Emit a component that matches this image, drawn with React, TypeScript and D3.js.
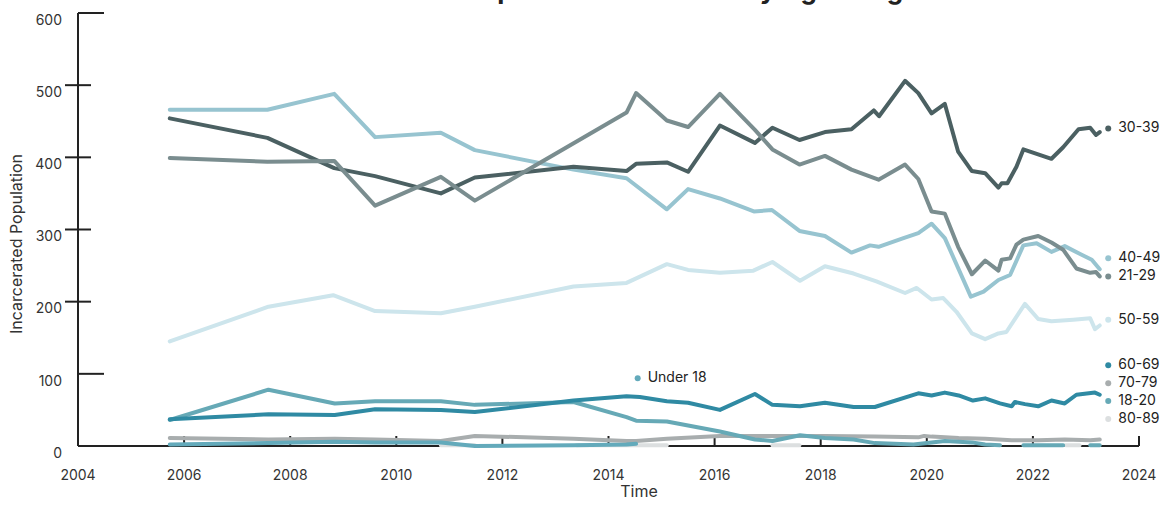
import React from "react";
import * as d3 from "d3";

type Pt = [number, number | null];

const xTicks = [2004, 2006, 2008, 2010, 2012, 2014, 2016, 2018, 2020, 2022, 2024];
const yTicks = [0, 100, 200, 300, 400, 500, 600];

const age30_39: Pt[] = [
  [2005.73, 454], [2007.57, 427], [2008.83, 385], [2009.6, 374], [2010.84, 350], [2011.48, 372],
  [2013.34, 387], [2014.34, 381], [2014.52, 391], [2015.1, 393], [2015.5, 380], [2016.1, 444],
  [2016.76, 420], [2017.09, 441], [2017.6, 424], [2018.08, 435], [2018.58, 439], [2019.0, 465],
  [2019.1, 457], [2019.59, 506], [2019.84, 489], [2020.09, 461], [2020.34, 474], [2020.59, 408],
  [2020.85, 381], [2021.1, 378], [2021.35, 358], [2021.41, 364], [2021.52, 364], [2021.69, 387],
  [2021.82, 411], [2022.35, 398], [2022.57, 414], [2022.86, 439], [2023.08, 441], [2023.19, 431],
  [2023.26, 435],
];

const age21_29: Pt[] = [
  [2005.73, 399], [2007.57, 394], [2008.83, 395], [2009.6, 333], [2010.84, 373], [2011.48, 340],
  [2014.34, 462], [2014.52, 489], [2015.1, 451], [2015.5, 442], [2016.1, 488], [2016.76, 438],
  [2017.09, 411], [2017.6, 390], [2018.08, 402], [2018.58, 383], [2019.09, 369], [2019.59, 390],
  [2019.84, 370], [2020.09, 325], [2020.34, 322], [2020.59, 276], [2020.85, 238], [2021.1, 257],
  [2021.35, 243], [2021.41, 258], [2021.57, 260], [2021.69, 279], [2021.82, 286], [2022.1, 291],
  [2022.35, 282], [2022.57, 272], [2022.82, 246], [2023.08, 240], [2023.19, 241], [2023.26, 235],
];

const age40_49: Pt[] = [
  [2005.73, 466], [2007.57, 466], [2008.83, 488], [2009.6, 428], [2010.84, 434], [2011.48, 410],
  [2013.34, 383], [2014.34, 371], [2015.1, 328], [2015.5, 356], [2016.1, 343], [2016.74, 325],
  [2017.08, 327], [2017.6, 298], [2018.08, 291], [2018.58, 268], [2018.93, 278], [2019.09, 276],
  [2019.56, 288], [2019.84, 295], [2020.09, 308], [2020.34, 288], [2020.83, 207], [2021.07, 214],
  [2021.35, 230], [2021.57, 237], [2021.82, 278], [2022.07, 281], [2022.35, 269], [2022.6, 277],
  [2022.89, 266], [2023.11, 258], [2023.26, 245],
];

const age50_59: Pt[] = [
  [2005.73, 145], [2007.59, 193], [2008.81, 209], [2009.6, 187], [2010.84, 184], [2011.48, 193],
  [2013.34, 221], [2014.34, 226], [2015.1, 252], [2015.5, 244], [2016.1, 240], [2016.73, 243],
  [2017.09, 255], [2017.61, 229], [2018.08, 249], [2018.62, 239], [2019.05, 228], [2019.59, 212],
  [2019.81, 219], [2020.09, 203], [2020.31, 205], [2020.56, 186], [2020.85, 156], [2021.1, 148],
  [2021.35, 156], [2021.5, 158], [2021.85, 197], [2022.1, 176], [2022.35, 173], [2022.76, 175],
  [2023.08, 177], [2023.17, 162], [2023.26, 167],
];

const age60_69: Pt[] = [
  [2005.73, 37], [2007.59, 44], [2008.84, 43], [2009.6, 51], [2010.84, 50], [2011.48, 47],
  [2013.34, 63], [2014.34, 69], [2014.59, 68], [2015.1, 62], [2015.5, 60], [2016.1, 50],
  [2016.76, 72], [2017.09, 57], [2017.61, 55], [2018.08, 60], [2018.62, 54], [2019.02, 54],
  [2019.84, 73], [2020.09, 70], [2020.34, 74], [2020.6, 70], [2020.87, 63], [2021.1, 66],
  [2021.38, 59], [2021.6, 55], [2021.66, 61], [2021.85, 58], [2022.1, 55], [2022.35, 63],
  [2022.6, 59], [2022.82, 71], [2023.17, 74], [2023.26, 71],
];

const age18_20: Pt[] = [
  [2005.73, 36], [2007.59, 78], [2008.84, 59], [2009.6, 62], [2010.84, 62], [2011.48, 57],
  [2013.34, 61], [2014.34, 40], [2014.52, 35], [2015.1, 34], [2016.1, 20], [2016.76, 9],
  [2017.09, 7], [2017.61, 15], [2018.08, 11], [2018.62, 9], [2019.02, 4], [2019.75, 2],
  [2020.09, 5], [2020.34, 7], [2020.85, 5], [2021.1, 2], [2021.38, 1], [2021.6, null],
  [2021.82, 1], [2022.1, 1], [2022.35, 1], [2022.57, 1], [2022.8, null], [2023.08, 1], [2023.26, 1],
];

const under18: Pt[] = [
  [2005.73, 2], [2007.59, 4], [2008.84, 6], [2009.6, 5], [2010.84, 5], [2011.48, 0],
  [2013.34, 1], [2014.34, 2], [2014.52, 3],
];

const age70_79: Pt[] = [
  [2005.73, 11], [2007.59, 9], [2008.84, 10], [2009.6, 9], [2010.84, 7], [2011.48, 14],
  [2013.34, 10], [2014.34, 7], [2014.52, 7], [2015.1, 10], [2016.1, 14], [2017.09, 14],
  [2018.08, 14], [2019.02, 13], [2019.84, 12], [2019.95, 14], [2020.09, 13], [2020.6, 11],
  [2021.1, 10], [2021.6, 8], [2022.1, 8], [2022.6, 9], [2023.08, 8], [2023.26, 9],
];

const age80_89: Pt[] = [
  [2010.84, 1], [2011.48, 1], [2012.5, null], [2013.4, 1], [2014.34, 1], [2015.1, 1],
  [2016.0, null], [2017.09, 1], [2017.6, 1], [2018.5, null], [2022.62, 1], [2022.88, 1],
];

const seriesNames = ["80-89", "70-79", "Under 18", "18-20", "60-69", "50-59", "40-49", "30-39", "21-29"];
const seriesData = [age80_89, age70_79, under18, age18_20, age60_69, age50_59, age40_49, age30_39, age21_29];
const seriesColors = ["#dcdfe0", "#a8adae", "#63aabb", "#66a9b6", "#2f8aa3", "#cde5ec", "#97c4d0", "#4b6062", "#7a8d8f"];
// label anchors: [year, value] in data units
const labelAnchors: [number, number][] = [
  [2023.42, 37.5], [2023.42, 87], [2014.55, 94], [2023.42, 62.5], [2023.42, 112],
  [2023.42, 175], [2023.42, 260], [2023.42, 440], [2023.42, 235],
];

const title = "Incarcerated Population Over Time by Age Range";
const FONT = "Inter, 'DejaVu Sans', sans-serif";

export default function App() {
  const width = 1171;
  const height = 506;
  const x = d3.scaleLinear().domain([2004, 2024]).range([78, 1139]);
  const y = d3.scaleLinear().domain([0, 600]).range([446, 13]);
  const line = d3
    .line<Pt>()
    .defined((d) => d[1] !== null)
    .x((d) => x(d[0]))
    .y((d) => y(d[1] as number));

  const x0 = x(2004);
  return (
    <svg
      width={width}
      height={height}
      style={{ position: "absolute", left: 0, top: 0, background: "#fff" }}
      fontFamily={FONT}
    >
      <text x={608} y={-1} textAnchor="middle" fontSize={26} fontWeight={700} fill="#222">
        {title}
      </text>
      {/* y axis */}
      <line x1={x0} x2={x0} y1={y(600)} y2={y(0)} stroke="#222" strokeWidth={2} />
      {yTicks.map((t) => {
        const ty = y(t);
        const rightOnly = t === 600 || t === 100;
        return (
          <g key={"y" + t}>
            {t !== 0 && (
              <line
                x1={rightOnly ? x0 : x0 - 13}
                x2={rightOnly ? x0 + 26 : x0 + 13}
                y1={ty}
                y2={ty}
                stroke="#222"
                strokeWidth={2}
              />
            )}
            <text x={62} y={ty + 8} textAnchor="end" dominantBaseline="middle" fontSize={14} fill="#333">
              {t}
            </text>
          </g>
        );
      })}
      {/* x axis */}
      <line x1={x0} x2={x(2024)} y1={y(0)} y2={y(0)} stroke="#222" strokeWidth={2} />
      {xTicks.map((t) => (
        <g key={"x" + t}>
          {t !== 2004 && (
            <line x1={x(t)} x2={x(t)} y1={y(0)} y2={y(0) - 10} stroke="#222" strokeWidth={2} />
          )}
          <text x={x(t)} y={476} textAnchor="middle" dominantBaseline="middle" fontSize={14} fill="#333">
            {t}
          </text>
        </g>
      ))}
      <text x={639} y={493} textAnchor="middle" dominantBaseline="middle" fontSize={16} fill="#333">
        Time
      </text>
      <text
        transform={`translate(18,244) rotate(-90)`}
        textAnchor="middle"
        dominantBaseline="middle"
        fontSize={16}
        fill="#333"
      >
        Incarcerated Population
      </text>
      {/* lines */}
      {seriesData.map((d, i) => (
        <path
          key={seriesNames[i]}
          d={line(d) || ""}
          fill="none"
          stroke={seriesColors[i]}
          strokeWidth={4}
          strokeLinejoin="round"
          strokeLinecap="round"
        />
      ))}
      {/* labels */}
      {labelAnchors.map((a, i) => (
        <g key={"l" + i}>
          <circle cx={x(a[0])} cy={y(a[1])} r={3} fill={seriesColors[i]} />
          <text
            x={x(a[0]) + 10}
            y={y(a[1])}
            dominantBaseline="middle"
            fontSize={14}
            fill="#222"
          >
            {seriesNames[i]}
          </text>
        </g>
      ))}
    </svg>
  );
}
